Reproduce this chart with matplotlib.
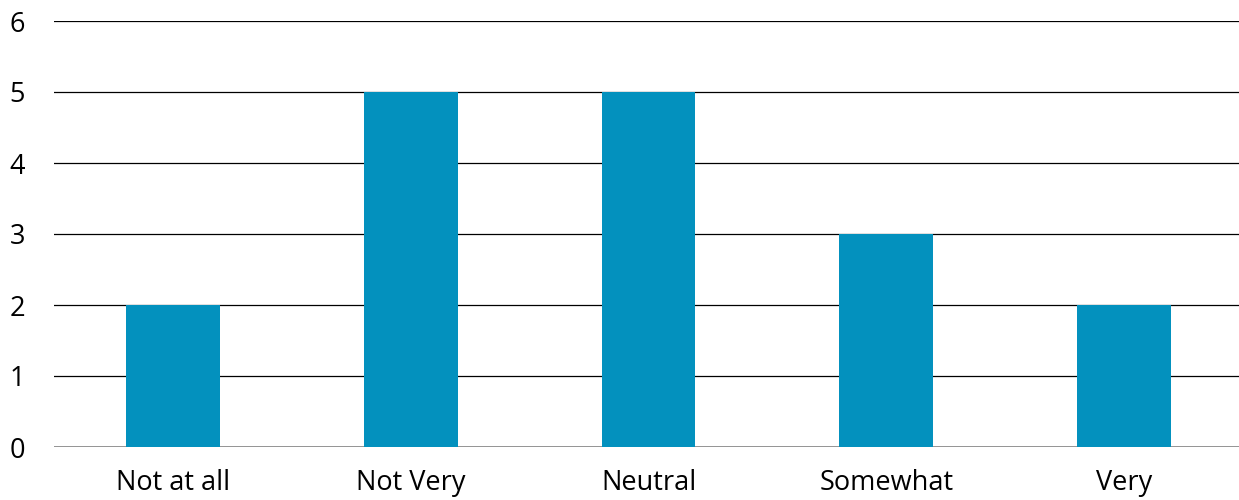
import matplotlib.pyplot as plt

categories = ['Not at all', 'Not Very', 'Neutral', 'Somewhat', 'Very']
counts = [2, 5, 5, 3, 2]
yticks = [0, 1, 2, 3, 4, 5, 6]

plt.rcParams['font.family'] = ['Open Sans', 'DejaVu Sans']

fig = plt.figure(figsize=(12.39, 5.0), dpi=100)
ax = fig.add_axes([54 / 1239, 53 / 500, 1189 / 1239, 426 / 500])

x = range(len(categories))
ax.bar(x, counts, width=0.395, color='#0391BE', zorder=3)

ax.set_xlim(-0.5, len(categories) - 0.5)
ax.set_ylim(0, 6)
ax.set_yticks(yticks)
ax.set_xticks(list(x))
ax.set_xticklabels(categories)

# horizontal gridlines only, no frame
ax.grid(axis='y', color='black', linewidth=0.9, zorder=1)
for s in ax.spines.values():
    s.set_visible(False)
ax.axhline(0, color='#888888', linewidth=1.2, zorder=2)
ax.tick_params(axis='both', length=0, labelsize=19.5, colors='black')
ax.tick_params(axis='y', pad=32)
ax.tick_params(axis='x', pad=16)
for lab in ax.get_yticklabels():
    lab.set_horizontalalignment('left')

fig.savefig('out.png', dpi=100)
